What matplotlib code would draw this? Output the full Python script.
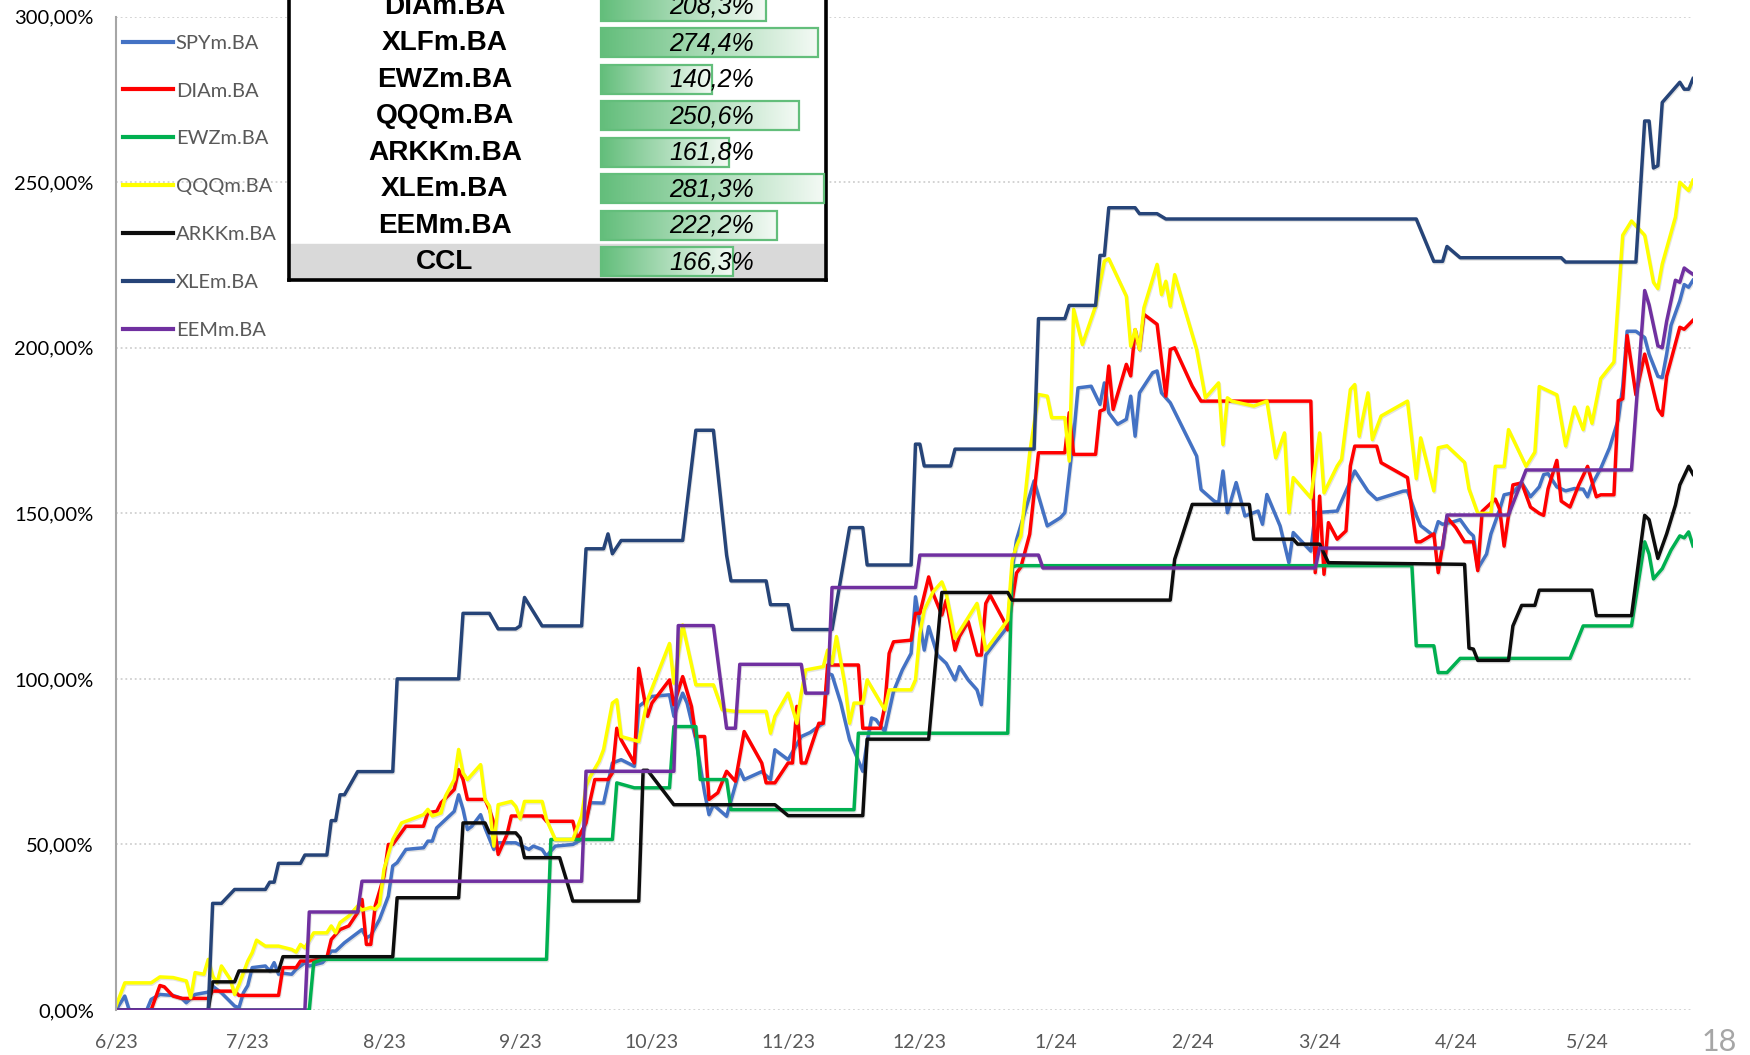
import matplotlib
matplotlib.use('Agg')
import matplotlib.pyplot as plt
import matplotlib.patheffects as pe
import matplotlib.ticker as ticker
from matplotlib.colors import LinearSegmentedColormap
from matplotlib.patches import Rectangle
import numpy as np
import pandas as pd

plt.rcParams['font.family'] = ['Lato', 'DejaVu Sans']

#----------------------------------------------------------------------------------------------------
# datos: dias desde 2023-06-01 y rendimiento acumulado (%)
#----------------------------------------------------------------------------------------------------
inicio = pd.Timestamp('2023-06-01')

spy_dias = [0, 2, 3, 7, 8, 10, 13, 15, 16, 18,
            21, 22, 23, 24, 27, 28, 29, 30, 31, 34,
            35, 36, 37, 38, 40, 41, 43, 44, 47, 48,
            49, 50, 52, 54, 56, 57, 58, 60, 62, 63,
            64, 66, 70, 71, 72, 73, 75, 77, 78, 79,
            80, 81, 83, 84, 86, 87, 91, 94, 95, 97,
            98, 100, 104, 106, 107, 108, 111, 113, 115, 118,
            119, 122, 126, 127, 129, 130, 132, 134, 135, 136,
            139, 142, 143, 147, 149, 150, 153, 156, 158, 161,
            162, 163, 165, 167, 170, 171, 172, 173, 175, 177,
            179, 181, 182, 184, 185, 187, 189, 191, 192, 194,
            196, 197, 198, 200, 203, 204, 205, 209, 212, 215,
            216, 218, 219, 222, 224, 225, 226, 228, 230, 231,
            232, 233, 236, 237, 238, 240, 246, 247, 250, 251,
            252, 253, 255, 257, 260, 261, 262, 265, 267, 268,
            272, 273, 278, 280, 282, 285, 287, 293, 294, 296,
            297, 300, 301, 302, 304, 306, 308, 309, 310, 312,
            313, 315, 316, 318, 320, 322, 324, 325, 326, 328,
            330, 332, 334, 335, 336, 338, 340, 342, 343, 344,
            346, 348, 349, 351, 352, 353, 354, 356, 357, 358,
            359]
spy_val = [0, 4.2, 0, 0, 3.2, 4.7, 4.4, 3.5, 2.2, 4.7,
           5.4, 7.2, 6.2, 5.2, 1.2, 0.7, 5.2, 7.4, 12.8, 13.3,
           11.8, 14.3, 10.8, 11.1, 10.8, 12.3, 14.3, 13.3, 14.3, 15.8,
           17.8, 17.8, 20.3, 22.3, 24.3, 21.8, 22.5, 27.4, 34.4, 43.5,
           44.5, 48.5, 49, 51, 51, 55, 57.5, 60, 65, 60.6,
           54.5, 55.5, 59, 55, 48.5, 50.5, 50.5, 48.5, 49.5, 48.5,
           46.5, 49.5, 50, 51.5, 57.5, 62.6, 62.5, 74.6, 75.6, 73.6,
           91.7, 94.7, 95.2, 88.7, 95.7, 92.7, 81.6, 65.6, 59, 62,
           58.5, 72.6, 69.6, 72, 69.6, 78.6, 75.6, 82.6, 83.8, 86.6,
           101.7, 101.2, 92.7, 81.6, 72.1, 81.1, 88.2, 87.7, 84.1, 96.2,
           102.7, 107.7, 124.8, 108.7, 115.8, 107.2, 104.7, 99.7, 103.7, 99.7,
           96.7, 92.2, 107.2, 110.7, 115.8, 132.8, 142, 159.8, 146.2, 148.7,
           150.2, 173.3, 187.9, 188.4, 182.9, 189.4, 180.4, 176.9, 178.4, 185.4,
           173.3, 186.4, 192.5, 193, 186.4, 183.4, 167.3, 157.2, 153.7, 153.2,
           162.8, 150.2, 159.3, 149.2, 150.7, 146.7, 155.7, 146.2, 135.1, 144.2,
           138.6, 150.2, 150.7, 156.7, 162.8, 156.7, 154.2, 156.7, 156.8, 149.4,
           146.3, 143.2, 147.5, 146.7, 147.3, 148.1, 144.4, 143.2, 133.3, 137.7,
           143.8, 151.2, 155.6, 156.2, 159.3, 155, 158, 161.7, 162, 158,
           156.8, 157.5, 157.3, 155, 158.6, 163.6, 169.8, 178.4, 188.3, 205,
           205, 203.1, 198.1, 191.4, 191, 198.1, 206.8, 214.2, 219.1, 218.3,
           220.4]

dia_dias = [0, 8, 10, 11, 13, 15, 21, 22, 27, 28,
            37, 38, 41, 42, 44, 48, 49, 51, 53, 55,
            56, 57, 58, 59, 61, 62, 63, 66, 70, 71,
            73, 74, 77, 78, 79, 80, 84, 85, 86, 87,
            89, 90, 97, 98, 104, 105, 107, 108, 109, 112,
            113, 114, 115, 118, 119, 121, 122, 126, 127, 129,
            131, 132, 134, 135, 137, 139, 141, 143, 147, 148,
            150, 153, 154, 155, 156, 157, 160, 161, 162, 169,
            170, 174, 175, 176, 177, 181, 182, 183, 185, 186,
            188, 189, 191, 192, 194, 196, 197, 198, 199, 202,
            203, 205, 206, 208, 210, 216, 217, 218, 223, 224,
            225, 226, 227, 230, 231, 232, 233, 234, 237, 239,
            240, 241, 245, 247, 272, 273, 274, 275, 276, 278,
            280, 281, 282, 287, 288, 294, 296, 297, 300, 301,
            303, 305, 307, 309, 310, 311, 314, 315, 316, 318,
            320, 322, 324, 325, 326, 328, 329, 331, 333, 335,
            337, 338, 341, 342, 343, 344, 346, 348, 351, 352,
            353, 355, 356, 357, 359]
dia_val = [0, 0, 7.4, 7.0, 4.2, 3.5, 3.5, 5.7, 5.7, 4.4,
           4.4, 12.8, 12.8, 14.8, 14.8, 15.8, 21.3, 24.3, 25.4, 29.4,
           33.4, 19.8, 19.8, 31.4, 40.4, 50, 50, 55.5, 55.5, 59.6,
           60, 62.6, 66.6, 72.6, 69.6, 63.6, 63.6, 60.6, 56.5, 47,
           53, 58.6, 58.6, 57, 57, 51.5, 56.5, 63.6, 69.6, 69.6,
           71.6, 85.1, 81.6, 74.6, 103.2, 88.7, 92.7, 99.7, 92.2, 100.7,
           91.7, 82.6, 82.6, 63.6, 65.6, 72.1, 69.1, 84.1, 74.6, 68.6,
           68.6, 74.6, 74.6, 91.7, 74.6, 74.6, 86.6, 86.6, 104.2, 104.2,
           85.1, 85.1, 91.7, 107.7, 111.2, 111.7, 119.8, 119.8, 130.8, 125.8,
           119.3, 123.8, 108.7, 112.8, 117.3, 107.2, 107.2, 122.8, 125.3, 117.8,
           114.8, 132, 133.8, 143.7, 168.3, 168.3, 180.4, 167.8, 167.8, 180.9,
           181.4, 194.5, 181.4, 195, 191.5, 205.5, 199.5, 210.1, 207.1, 185.4,
           199.5, 200, 188.4, 183.9, 183.9, 132.1, 155.2, 131.6, 147.2, 142.2,
           144.7, 164.3, 170.3, 170.3, 165.3, 160.8, 141.4, 141.4, 143.8, 132.1,
           148.8, 145.7, 141.4, 141.4, 132.7, 150.6, 154.3, 151.2, 140.1, 158.6,
           159.2, 151.9, 150, 149.4, 157.4, 166, 153.7, 151.9, 158.6, 164.2,
           155, 155.6, 155.6, 184, 184.6, 203.7, 185.8, 198.1, 181.5, 179.6,
           191.4, 201.2, 206.2, 205.6, 208.3]

ewz_dias = [0, 44, 45, 47, 98, 99, 113, 114, 118, 126,
            127, 132, 133, 139, 140, 168, 169, 203, 204, 205,
            295, 296, 300, 301, 303, 306, 331, 334, 345, 348,
            349, 350, 352, 354, 356, 357, 358, 359]
ewz_val = [0, 0, 14.3, 15.3, 15.3, 51.5, 51.5, 68.6, 67.1, 67.1,
           85.6, 85.6, 69.6, 69.6, 60.5, 60.5, 83.6, 83.6, 133.8, 134.2,
           134.2, 110, 110, 101.9, 101.9, 106.2, 106.2, 116, 116, 141.4,
           137.7, 130.2, 133.3, 138.9, 143.2, 142.6, 144.4, 140.2]

qqq_dias = [0, 2, 8, 10, 13, 16, 17, 18, 20, 21,
            22, 23, 24, 26, 27, 28, 30, 31, 32, 34,
            37, 40, 41, 42, 43, 45, 48, 49, 50, 51,
            53, 55, 56, 58, 59, 60, 61, 63, 65, 67,
            70, 71, 72, 74, 75, 77, 78, 79, 80, 83,
            84, 85, 86, 87, 90, 91, 92, 93, 97, 98,
            99, 100, 104, 106, 107, 108, 110, 111, 113, 114,
            115, 119, 121, 126, 127, 129, 132, 136, 138, 141,
            148, 149, 150, 153, 155, 156, 157, 161, 162, 163,
            164, 166, 167, 168, 170, 171, 175, 176, 181, 182,
            183, 184, 186, 188, 189, 191, 196, 198, 203, 204,
            205, 206, 208, 210, 212, 213, 216, 217, 218, 220,
            223, 225, 226, 230, 231, 232, 233, 234, 237, 238,
            239, 240, 241, 244, 246, 248, 251, 252, 253, 254,
            259, 262, 264, 266, 267, 268, 272, 274, 275, 278,
            279, 281, 282, 283, 285, 286, 288, 294, 296, 297,
            300, 301, 303, 307, 308, 310, 313, 314, 316, 317,
            321, 323, 324, 328, 330, 332, 334, 335, 336, 338,
            341, 343, 345, 348, 350, 351, 352, 355, 356, 358,
            359]
qqq_val = [1.2, 8.2, 8.2, 10, 9.8, 8.8, 3.7, 11.3, 10.8, 15.3,
           10.3, 8.2, 13.3, 9.3, 4.7, 7.7, 14.8, 17.3, 21.1, 19.3,
           19.3, 18.3, 17.5, 19.8, 18.8, 23.3, 23.3, 25.4, 23.3, 26.4,
           28.4, 31.4, 30.2, 31, 30.4, 31.9, 42.5, 51.5, 56.5, 57.5,
           59, 60.6, 58.6, 59.5, 64.6, 69.6, 78.7, 71.6, 69.6, 74.1,
           63.6, 61.6, 49.5, 62, 63, 61.5, 57.8, 63, 63, 57.5,
           54.5, 51.5, 51.5, 58.6, 67.6, 70.6, 75.2, 78.7, 92.7, 93.7,
           82.6, 81.1, 93.7, 110.7, 98.7, 116.3, 98.2, 98.2, 90.7, 90.2,
           90.2, 83.6, 88.7, 95.7, 86.6, 95.7, 102.7, 103.7, 108.7, 104.7,
           112.8, 97.7, 86.6, 92.7, 92.7, 99.7, 90.7, 96.7, 96.7, 99.7,
           113.8, 120.8, 126.3, 129.3, 125.8, 112.2, 122.8, 108.7, 117.8, 135.8,
           140.2, 143.2, 168.3, 185.9, 185.4, 178.9, 178.9, 165.8, 211.6, 201,
           212.6, 226.2, 226.9, 215.6, 200.5, 205.5, 199.5, 212.1, 225.2, 216.1,
           220.1, 212.6, 222.1, 208.6, 199.5, 184.9, 189.4, 170.8, 184.9, 183.9,
           182.4, 183.9, 166.8, 174.3, 150.2, 160.8, 154.7, 174.3, 156.2, 164.3,
           166.3, 187.4, 188.9, 173.3, 186.4, 172.3, 179.4, 183.9, 160.5, 172.8,
           156.8, 169.8, 170.4, 165.4, 157.4, 150, 150, 164.2, 164.2, 175.3,
           164.2, 168.5, 188.3, 185.8, 170.4, 182.1, 175.3, 182.1, 177.2, 190.7,
           195.7, 234, 238.3, 234, 219.8, 217.9, 225.3, 239.5, 250, 247.5,
           250.6]

arkk_dias = [0, 21, 22, 27, 28, 37, 38, 63, 64, 78,
             79, 84, 85, 91, 92, 93, 101, 104, 119, 120,
             121, 127, 150, 153, 170, 171, 185, 188, 203, 204,
             240, 241, 245, 258, 259, 268, 269, 274, 276, 307,
             308, 309, 310, 317, 318, 320, 323, 324, 336, 337,
             345, 348, 349, 351, 353, 355, 356, 358, 359]
arkk_val = [0, 0, 8.5, 8.5, 11.8, 11.8, 16.1, 16.1, 33.9, 33.9,
            56.5, 56.5, 53.5, 53.5, 52, 46, 46, 32.9, 32.9, 72.4,
            72.4, 62, 62, 58.7, 58.7, 81.8, 81.8, 126.1, 126.1, 123.8,
            123.8, 136.1, 152.7, 152.7, 142.2, 142.2, 140.7, 140.7, 135.1, 134.6,
            109.3, 109, 105.6, 105.6, 116, 122.2, 122.2, 126.8, 126.8, 119.1,
            119.1, 149.4, 148.1, 136.4, 143.8, 152.5, 158.6, 164.2, 161.8]

xle_dias = [0, 21, 22, 24, 27, 34, 35, 36, 37, 42,
            43, 48, 49, 50, 51, 52, 55, 63, 64, 78,
            79, 85, 87, 91, 92, 93, 97, 106, 107, 111,
            112, 113, 115, 129, 132, 136, 139, 140, 148, 149,
            153, 154, 163, 167, 170, 171, 181, 182, 183, 184,
            190, 191, 209, 210, 216, 217, 223, 224, 225, 226,
            232, 233, 237, 239, 296, 300, 302, 303, 306, 329,
            330, 346, 348, 349, 350, 351, 352, 356, 357, 358,
            359]
xle_val = [0, 0, 32.2, 32.2, 36.4, 36.4, 38.6, 38.6, 44.3, 44.3,
           46.8, 46.8, 57.2, 57.2, 65, 65, 72, 72, 100, 100,
           119.8, 119.8, 115.1, 115.1, 116, 124.6, 116, 116, 139.3, 139.3,
           143.8, 137.8, 141.8, 141.8, 175.1, 175.1, 137.4, 129.6, 129.6, 122.4,
           122.4, 114.9, 114.9, 145.7, 145.7, 134.4, 134.4, 170.9, 170.9, 164.3,
           164.3, 169.4, 169.4, 208.8, 208.8, 212.8, 212.8, 227.9, 227.9, 242.3,
           242.3, 240.5, 240.5, 238.9, 238.9, 226.1, 226.1, 230.6, 227.2, 227.2,
           225.9, 225.9, 268.5, 268.5, 254.3, 255, 274.1, 280.2, 278.1, 278.1,
           281.3]

eem_dias = [0, 43, 44, 55, 56, 106, 107, 127, 128, 136,
            139, 141, 142, 156, 157, 162, 163, 182, 183, 210,
            211, 273, 274, 302, 303, 317, 321, 345, 348, 349,
            351, 352, 353, 355, 356, 357, 358, 359]
eem_val = [0, 0, 29.6, 29.6, 38.9, 38.9, 72.1, 72.1, 116.1, 116.1,
           85.1, 85.1, 104.4, 104.4, 95.7, 95.7, 127.6, 127.6, 137.4, 137.4,
           133.5, 133.5, 139.5, 139.5, 149.5, 149.5, 163.1, 163.1, 217.3, 213,
           200.6, 200, 208, 220.4, 219.8, 224.1, 223.1, 222.2]

# tabla de rendimientos finales
tabla_tickers = ['DIAm.BA', 'XLFm.BA', 'EWZm.BA', 'QQQm.BA', 'ARKKm.BA', 'XLEm.BA', 'EEMm.BA', 'CCL']
tabla_valores = [208.3, 274.4, 140.2, 250.6, 161.8, 281.3, 222.2, 166.3]

series = [('SPYm.BA', spy_dias, spy_val, '#4472C4'),
          ('DIAm.BA', dia_dias, dia_val, '#FF0000'),
          ('EWZm.BA', ewz_dias, ewz_val, '#00B050'),
          ('QQQm.BA', qqq_dias, qqq_val, '#FFFF00'),
          ('ARKKm.BA', arkk_dias, arkk_val, '#0D0D0D'),
          ('XLEm.BA', xle_dias, xle_val, '#264478'),
          ('EEMm.BA', eem_dias, eem_val, '#7030A0')]

#----------------------------------------------------------------------------------------------------
# grafico
#----------------------------------------------------------------------------------------------------
W, H = 1750, 1055
fig = plt.figure(figsize=(W / 100, H / 100), dpi=100)
ax = fig.add_axes([116 / W, 45 / H, (1693 - 116) / W, (1010 - 16.7) / H])

sombra = [pe.SimpleLineShadow(offset=(0.6, -1.0), shadow_color='#808080', alpha=0.22), pe.Normal()]
for nombre, dias, val, color in series:
    fechas = inicio + pd.to_timedelta(dias, unit='D')
    ax.plot(fechas, val, color=color, lw=2.5, label=nombre,
            solid_joinstyle='round', path_effects=sombra)

ax.set_ylim(0, 300)
ax.set_xlim(inicio, inicio + pd.Timedelta(days=359))
ax.set_yticks(range(0, 301, 50))
ax.yaxis.set_major_formatter(ticker.FuncFormatter(lambda v, p: f'{v:.2f}%'.replace('.', ',')))
meses = pd.date_range('2023-06-01', '2024-05-01', freq='MS')
ax.set_xticks(meses)
ax.set_xticklabels([f'{m.month}/{m.strftime("%y")}' for m in meses])
ax.tick_params(axis='y', length=0, pad=16, labelsize=14.5, labelcolor='#000000')
ax.tick_params(axis='x', length=0, pad=17, labelsize=14, labelcolor='#595959')
ax.grid(axis='y', color='#D0D0D0', lw=1.3, linestyle=(0, (1, 1.6)))
ax.set_axisbelow(True)
for s in ['top', 'right', 'bottom']:
    ax.spines[s].set_visible(False)
ax.spines['left'].set_color('#A6A6A6')
ax.spines['left'].set_linewidth(1.5)

leg = ax.legend(loc='upper left', bbox_to_anchor=(123 / W, 1 - 34.5 / H), bbox_transform=fig.transFigure,
                frameon=False, fontsize=14.5, handlelength=2.5, handletextpad=0.12,
                labelspacing=1.53, borderaxespad=0, borderpad=0)
for t in leg.get_texts():
    t.set_color('#595959')
for h in leg.get_lines():
    h.set_linewidth(3)
    h.set_path_effects([])

#----------------------------------------------------------------------------------------------------
# tabla con barras de datos
#----------------------------------------------------------------------------------------------------
fila = 36.5
n = len(tabla_tickers)
tab = fig.add_axes([289 / W, (H - 280) / H, (826.4 - 289) / W, n * fila / H], zorder=5)
tab.set_facecolor('white')
tab.axhspan(n - 1, n, color='#D9D9D9', zorder=0)

verde = LinearSegmentedColormap.from_list('barra', ['#63BE7B', '#F4FAF5'])
grad = np.linspace(0, 1, 256).reshape(1, -1)
x0, largo_max, alto = 0.5813, 0.4135, 0.79
for i, (tk, v) in enumerate(zip(tabla_tickers, tabla_valores)):
    largo = v / max(tabla_valores) * largo_max
    tab.imshow(grad, extent=(x0, x0 + largo, i + 0.5 + alto / 2, i + 0.5 - alto / 2),
               aspect='auto', cmap=verde, zorder=2)
    tab.add_patch(Rectangle((x0, i + 0.5 - alto / 2), largo, alto, fill=False,
                            ec='#63BE7B', lw=1.6, zorder=3))
    tab.text(0.29, i + 0.52, tk, ha='center', va='center', fontsize=20.2,
             fontweight='bold', family='Liberation Sans', zorder=4)
    tab.text(0.8653, i + 0.52, f'{v:.1f}%'.replace('.', ','), ha='right', va='center',
             fontsize=18, style='italic', family='Liberation Sans', zorder=4)

tab.set_xlim(0, 1)
tab.set_ylim(n, 0)
tab.set_xticks([])
tab.set_yticks([])
tab.spines['top'].set_visible(False)
for s in ['left', 'right', 'bottom']:
    tab.spines[s].set_color('black')
    tab.spines[s].set_linewidth(2.6)

# numero de pagina
fig.text(1719 / W, 1 - 1042 / H, '18', ha='center', va='center', fontsize=22, color='#A6A6A6')

fig.savefig('out.png', dpi=100)
